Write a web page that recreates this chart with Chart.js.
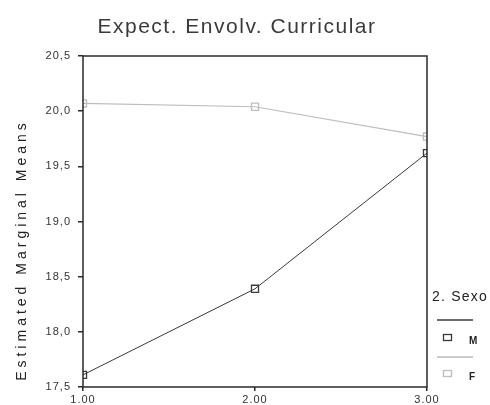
<!DOCTYPE html>
<html>
<head>
<meta charset="utf-8">
<script src="https://cdn.jsdelivr.net/npm/chart.js@4"></script>
<style>
html,body{margin:0;padding:0;background:#fff;}
#wrap{position:relative;width:490px;height:405px;}
</style>
</head>
<body>
<div id="wrap"><canvas id="c" width="490" height="405"></canvas></div>
<script>
const categories = [1, 2, 3];
const xTickLabels = ["1.00", "2.00", "3.00"];
const yTickLabels = ["17,5", "18,0", "18,5", "19,0", "19,5", "20,0", "20,5"];
const seriesM = [17.61, 18.39, 19.62];
const seriesF = [20.07, 20.04, 19.77];
const seriesNames = ["M", "F"];
const chartTitle = "Expect. Envolv. Curricular";
const yAxisTitle = "Estimated Marginal Means";
const legendTitle = "2. Sexo";

const darkCol = "#3a3a3a";
const lightCol = "#bdbdbd";
const FONT = "'Liberation Sans', Arial, sans-serif";

const framePlugin = {
  id: 'frame',
  beforeDraw(chart) {
    chart.ctx.letterSpacing = "1px";
  },
  afterDraw(chart) {
    const ctx = chart.ctx;
    ctx.letterSpacing = "0px";
    const a = chart.chartArea;
    ctx.save();
    ctx.strokeStyle = "#2a2a2a";
    ctx.lineWidth = 1.5;
    ctx.strokeRect(a.left, a.top, a.right - a.left, a.bottom - a.top);
    ctx.restore();
    // main title
    ctx.save();
    ctx.fillStyle = "#3a3a3a";
    ctx.font = "21px " + FONT;
    ctx.letterSpacing = "1.5px";
    ctx.textAlign = "center";
    ctx.textBaseline = "middle";
    ctx.fillText(chartTitle, 237, 27);
    ctx.restore();
    // y axis title
    ctx.save();
    ctx.translate(22, 250);
    ctx.rotate(-Math.PI / 2);
    ctx.fillStyle = "#222";
    ctx.font = "14px " + FONT;
    ctx.letterSpacing = "4px";
    ctx.textAlign = "center";
    ctx.textBaseline = "middle";
    ctx.fillText(yAxisTitle, 0, 0);
    ctx.restore();
    // legend
    ctx.save();
    ctx.fillStyle = "#222";
    ctx.font = "14px " + FONT;
    ctx.textBaseline = "middle";
    ctx.textAlign = "left";
    ctx.letterSpacing = "1.2px";
    ctx.fillText(legendTitle, 432, 297);
    const items = [
      {name: seriesNames[0], col: darkCol, lineY: 320, boxY: 338},
      {name: seriesNames[1], col: lightCol, lineY: 357, boxY: 374}
    ];
    items.forEach(it => {
      ctx.strokeStyle = it.col;
      ctx.lineWidth = 1.5;
      ctx.beginPath(); ctx.moveTo(437, it.lineY); ctx.lineTo(473, it.lineY); ctx.stroke();
      ctx.lineWidth = 1.3;
      ctx.strokeRect(443.5, it.boxY - 3.5, 8, 6);
      ctx.fillStyle = "#222";
      ctx.letterSpacing = "0px";
      ctx.font = "bold 10px " + FONT;
      ctx.fillText(it.name, 469, it.boxY + 3);
    });
    ctx.restore();
  }
};

new Chart(document.getElementById('c'), {
  type: 'line',
  data: {
    datasets: [
      {
        label: seriesNames[0],
        data: categories.map((x, i) => ({x: x, y: seriesM[i]})),
        borderColor: darkCol,
        borderWidth: 1,
        pointStyle: 'rect',
        pointRadius: 5,
        pointBorderWidth: 1.3,
        pointBackgroundColor: 'rgba(255,255,255,0)',
        pointBorderColor: darkCol,
        tension: 0
      },
      {
        label: seriesNames[1],
        data: categories.map((x, i) => ({x: x, y: seriesF[i]})),
        borderColor: lightCol,
        borderWidth: 1.2,
        pointStyle: 'rect',
        pointRadius: 5,
        pointBorderWidth: 1.3,
        pointBackgroundColor: 'rgba(255,255,255,0)',
        pointBorderColor: lightCol,
        tension: 0
      }
    ]
  },
  options: {
    responsive: false,
    animation: false,
    devicePixelRatio: 1,
    layout: {padding: {left: 0, right: 63, top: 56, bottom: 0}},
    plugins: {
      legend: {display: false},
      tooltip: {enabled: false},
      title: {display: false}
    },
    scales: {
      x: {
        type: 'linear',
        min: 1, max: 3,
        afterFit(s) { s.height = 18; },
        afterBuildTicks(s) { s.ticks = categories.map(v => ({value: v})); },
        ticks: {
          color: "#333",
          font: {family: FONT, size: 11},
          padding: 2,
          maxRotation: 0,
          callback: (v) => xTickLabels[categories.indexOf(v)]
        },
        grid: {display: true, drawOnChartArea: false, drawTicks: true, tickLength: 4, color: "#2a2a2a", lineWidth: 1.5},
        border: {display: false}
      },
      y: {
        min: 17.5, max: 20.5,
        afterFit(s) { s.width = 83; },
        ticks: {
          stepSize: 0.5,
          color: "#333",
          font: {family: FONT, size: 11},
          padding: 7,
          callback: (v, i) => yTickLabels[i]
        },
        grid: {display: true, drawOnChartArea: false, drawTicks: true, tickLength: 5, color: "#2a2a2a", lineWidth: 1.5},
        border: {display: false}
      }
    }
  },
  plugins: [framePlugin]
});
</script>
</body>
</html>
